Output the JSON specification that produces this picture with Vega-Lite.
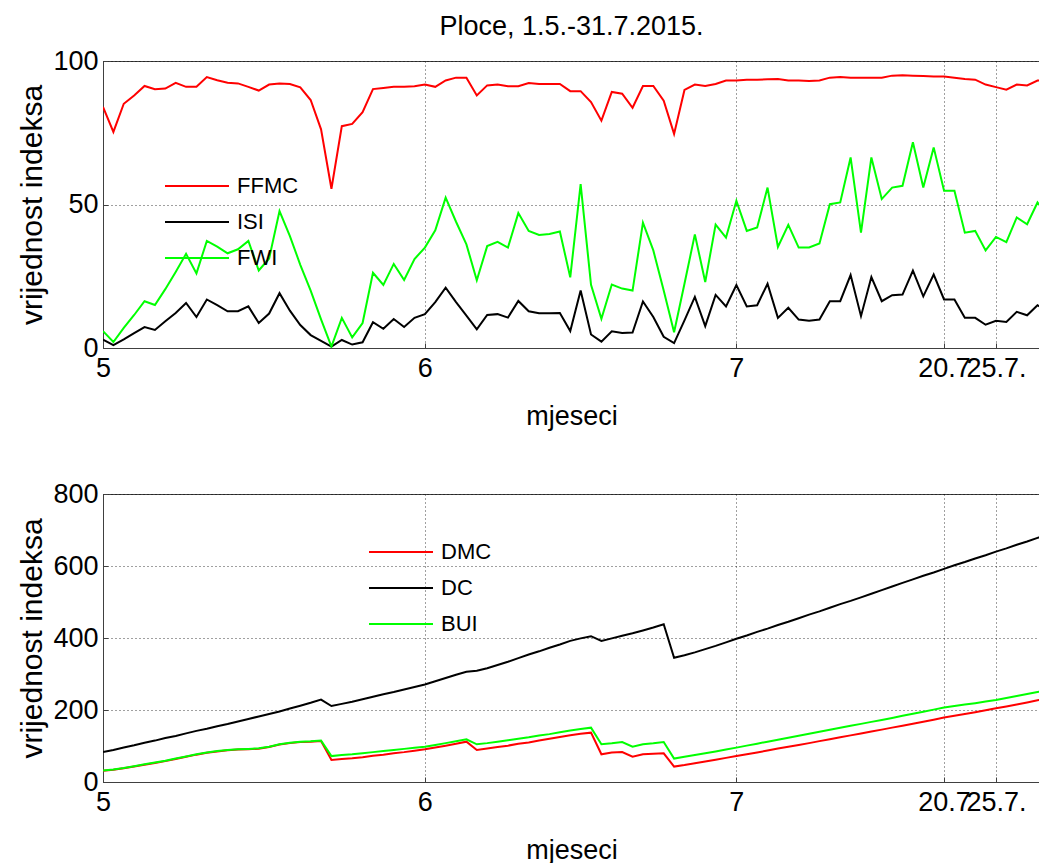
{
  "$schema": "https://vega.github.io/schema/vega-lite/v6.json",
  "padding": {"left": 16, "top": 12, "right": 0, "bottom": 0},
  "background": "white",
  "config": {
    "font": "Liberation Sans",
    "view": {"stroke": "#404040", "strokeWidth": 1},
    "axis": {
      "labelFont": "Liberation Sans", "labelFontSize": 27, "labelColor": "#000000",
      "titleFont": "Liberation Sans", "titleFontSize": 27, "titleFontWeight": "normal", "titleColor": "#000000",
      "domainColor": "#404040", "tickColor": "#404040", "tickSize": -5,
      "gridColor": "#000000", "gridDash": [1, 3], "gridOpacity": 0.75, "gridWidth": 1,
      "labelFlush": false, "labelOverlap": false
    },
    "legend": {
      "labelFont": "Liberation Sans", "labelFontSize": 22, "labelColor": "#000000",
      "symbolType": "M-4,0L4,0", "symbolSize": 256, "symbolStrokeWidth": 2,
      "labelOffset": 29, "rowPadding": 14, "padding": 0, "title": null
    },
    "title": {"font": "Liberation Sans", "fontSize": 27, "fontWeight": "normal", "color": "#000000"}
  },
  "data": {"values": [
    {"dan":1,"FFMC":84.0,"ISI":2.9,"FWI":5.9,"DMC":31,"DC":83,"BUI":32},
    {"dan":2,"FFMC":75.3,"ISI":1.0,"FWI":2.1,"DMC":34,"DC":89,"BUI":35},
    {"dan":3,"FFMC":85.1,"ISI":3.0,"FWI":7.0,"DMC":38,"DC":96,"BUI":39},
    {"dan":4,"FFMC":88.0,"ISI":5.2,"FWI":11.5,"DMC":43,"DC":102,"BUI":44},
    {"dan":5,"FFMC":91.3,"ISI":7.3,"FWI":16.3,"DMC":48,"DC":109,"BUI":49},
    {"dan":6,"FFMC":90.2,"ISI":6.3,"FWI":15.0,"DMC":53,"DC":115,"BUI":54},
    {"dan":7,"FFMC":90.4,"ISI":9.3,"FWI":20.5,"DMC":58,"DC":122,"BUI":59},
    {"dan":8,"FFMC":92.4,"ISI":12.2,"FWI":26.5,"DMC":64,"DC":128,"BUI":65},
    {"dan":9,"FFMC":91.0,"ISI":15.7,"FWI":32.8,"DMC":70,"DC":135,"BUI":71},
    {"dan":10,"FFMC":91.0,"ISI":10.8,"FWI":26.0,"DMC":76,"DC":142,"BUI":77},
    {"dan":11,"FFMC":94.4,"ISI":16.9,"FWI":37.3,"DMC":81,"DC":148,"BUI":82},
    {"dan":12,"FFMC":93.3,"ISI":14.9,"FWI":35.3,"DMC":85,"DC":155,"BUI":86},
    {"dan":13,"FFMC":92.4,"ISI":12.8,"FWI":33.0,"DMC":88,"DC":161,"BUI":89},
    {"dan":14,"FFMC":92.2,"ISI":12.8,"FWI":34.4,"DMC":90,"DC":168,"BUI":91},
    {"dan":15,"FFMC":91.0,"ISI":14.5,"FWI":37.3,"DMC":91,"DC":175,"BUI":92},
    {"dan":16,"FFMC":89.7,"ISI":8.7,"FWI":27.0,"DMC":92.5,"DC":182,"BUI":93.5},
    {"dan":17,"FFMC":91.8,"ISI":12.0,"FWI":31.2,"DMC":97,"DC":189,"BUI":98},
    {"dan":18,"FFMC":92.2,"ISI":19.1,"FWI":47.7,"DMC":104,"DC":196,"BUI":105},
    {"dan":19,"FFMC":92.0,"ISI":13.0,"FWI":39.0,"DMC":108,"DC":204,"BUI":109},
    {"dan":20,"FFMC":90.8,"ISI":8.0,"FWI":29.0,"DMC":111,"DC":212,"BUI":112},
    {"dan":21,"FFMC":86.4,"ISI":4.5,"FWI":20.0,"DMC":112,"DC":220,"BUI":113},
    {"dan":22,"FFMC":76.2,"ISI":2.5,"FWI":10.0,"DMC":114,"DC":229,"BUI":115},
    {"dan":23,"FFMC":55.5,"ISI":0.5,"FWI":0.5,"DMC":61,"DC":211,"BUI":72},
    {"dan":24,"FFMC":77.3,"ISI":2.8,"FWI":10.5,"DMC":64,"DC":217,"BUI":75},
    {"dan":25,"FFMC":78.1,"ISI":1.2,"FWI":3.7,"DMC":66,"DC":223,"BUI":77},
    {"dan":26,"FFMC":82.2,"ISI":2.0,"FWI":8.7,"DMC":69,"DC":230,"BUI":80},
    {"dan":27,"FFMC":90.2,"ISI":9.0,"FWI":26.2,"DMC":73,"DC":237,"BUI":83},
    {"dan":28,"FFMC":90.6,"ISI":6.7,"FWI":22.0,"DMC":76,"DC":244,"BUI":86},
    {"dan":29,"FFMC":91.0,"ISI":10.1,"FWI":29.3,"DMC":80,"DC":250,"BUI":89},
    {"dan":30,"FFMC":91.0,"ISI":7.3,"FWI":23.7,"DMC":83,"DC":257,"BUI":92},
    {"dan":31,"FFMC":91.2,"ISI":10.5,"FWI":31.0,"DMC":87,"DC":264,"BUI":95},
    {"dan":32,"FFMC":91.8,"ISI":11.8,"FWI":35.0,"DMC":91,"DC":271,"BUI":98},
    {"dan":33,"FFMC":91.0,"ISI":16.0,"FWI":41.0,"DMC":96,"DC":280,"BUI":103},
    {"dan":34,"FFMC":93.2,"ISI":21.0,"FWI":52.4,"DMC":101,"DC":289,"BUI":108},
    {"dan":35,"FFMC":94.2,"ISI":16.0,"FWI":44.0,"DMC":106,"DC":298,"BUI":113},
    {"dan":36,"FFMC":94.2,"ISI":11.3,"FWI":36.1,"DMC":112,"DC":306,"BUI":118.6},
    {"dan":37,"FFMC":88.0,"ISI":6.5,"FWI":23.6,"DMC":89,"DC":309,"BUI":104.7},
    {"dan":38,"FFMC":91.5,"ISI":11.5,"FWI":35.5,"DMC":93,"DC":316,"BUI":108},
    {"dan":39,"FFMC":91.8,"ISI":11.8,"FWI":37.0,"DMC":97,"DC":325,"BUI":112},
    {"dan":40,"FFMC":91.2,"ISI":10.6,"FWI":35.0,"DMC":101,"DC":334,"BUI":116},
    {"dan":41,"FFMC":91.2,"ISI":16.4,"FWI":47.0,"DMC":106,"DC":344,"BUI":120},
    {"dan":42,"FFMC":92.3,"ISI":12.8,"FWI":40.8,"DMC":110,"DC":354,"BUI":124},
    {"dan":43,"FFMC":92.0,"ISI":12.1,"FWI":39.4,"DMC":115,"DC":363,"BUI":129},
    {"dan":44,"FFMC":92.0,"ISI":12.1,"FWI":39.7,"DMC":120,"DC":373,"BUI":133},
    {"dan":45,"FFMC":92.0,"ISI":12.2,"FWI":40.6,"DMC":125,"DC":382,"BUI":138},
    {"dan":46,"FFMC":89.5,"ISI":5.9,"FWI":24.6,"DMC":130,"DC":392,"BUI":143},
    {"dan":47,"FFMC":89.5,"ISI":20.0,"FWI":57.1,"DMC":134,"DC":399,"BUI":147},
    {"dan":48,"FFMC":85.7,"ISI":4.7,"FWI":22.0,"DMC":137,"DC":405,"BUI":151},
    {"dan":49,"FFMC":79.2,"ISI":2.2,"FWI":10.2,"DMC":77,"DC":392,"BUI":104.7},
    {"dan":50,"FFMC":89.2,"ISI":5.8,"FWI":22.1,"DMC":81.8,"DC":399,"BUI":107.4},
    {"dan":51,"FFMC":88.6,"ISI":5.2,"FWI":20.7,"DMC":83.4,"DC":406,"BUI":111},
    {"dan":52,"FFMC":83.7,"ISI":5.4,"FWI":20.0,"DMC":70.5,"DC":413,"BUI":98.3},
    {"dan":53,"FFMC":91.3,"ISI":16.2,"FWI":43.7,"DMC":77,"DC":421,"BUI":104.7},
    {"dan":54,"FFMC":91.3,"ISI":10.8,"FWI":34.0,"DMC":78.7,"DC":429,"BUI":107.4},
    {"dan":55,"FFMC":86.2,"ISI":3.9,"FWI":20.0,"DMC":79.6,"DC":438,"BUI":111},
    {"dan":56,"FFMC":74.6,"ISI":1.7,"FWI":5.5,"DMC":42.8,"DC":345,"BUI":65},
    {"dan":57,"FFMC":89.9,"ISI":9.6,"FWI":22.4,"DMC":47,"DC":352,"BUI":70},
    {"dan":58,"FFMC":91.8,"ISI":17.8,"FWI":39.6,"DMC":52,"DC":360,"BUI":75},
    {"dan":59,"FFMC":91.3,"ISI":7.6,"FWI":23.0,"DMC":57,"DC":369,"BUI":80},
    {"dan":60,"FFMC":92.0,"ISI":18.5,"FWI":43.0,"DMC":62,"DC":378,"BUI":85},
    {"dan":61,"FFMC":93.2,"ISI":14.5,"FWI":38.5,"DMC":67,"DC":388,"BUI":90},
    {"dan":62,"FFMC":93.2,"ISI":21.9,"FWI":51.3,"DMC":72,"DC":398,"BUI":95.5},
    {"dan":63,"FFMC":93.5,"ISI":14.5,"FWI":40.8,"DMC":77,"DC":407,"BUI":101},
    {"dan":64,"FFMC":93.5,"ISI":14.9,"FWI":42.0,"DMC":82,"DC":417,"BUI":106.5},
    {"dan":65,"FFMC":93.6,"ISI":22.4,"FWI":55.9,"DMC":87.5,"DC":426,"BUI":112},
    {"dan":66,"FFMC":93.7,"ISI":10.5,"FWI":35.2,"DMC":93,"DC":436,"BUI":117.5},
    {"dan":67,"FFMC":93.2,"ISI":14.0,"FWI":42.9,"DMC":98,"DC":445,"BUI":123},
    {"dan":68,"FFMC":93.2,"ISI":9.9,"FWI":35.0,"DMC":103,"DC":455,"BUI":128.5},
    {"dan":69,"FFMC":93.0,"ISI":9.5,"FWI":35.0,"DMC":108,"DC":465,"BUI":134},
    {"dan":70,"FFMC":93.2,"ISI":9.9,"FWI":36.4,"DMC":113.5,"DC":474,"BUI":139.5},
    {"dan":71,"FFMC":94.2,"ISI":16.3,"FWI":50.1,"DMC":119,"DC":484,"BUI":145},
    {"dan":72,"FFMC":94.4,"ISI":16.3,"FWI":50.7,"DMC":124,"DC":494,"BUI":150.5},
    {"dan":73,"FFMC":94.2,"ISI":25.4,"FWI":66.4,"DMC":129.5,"DC":503,"BUI":156},
    {"dan":74,"FFMC":94.2,"ISI":11.1,"FWI":40.2,"DMC":135,"DC":513,"BUI":161.5},
    {"dan":75,"FFMC":94.2,"ISI":24.7,"FWI":66.4,"DMC":140,"DC":523,"BUI":167},
    {"dan":76,"FFMC":94.2,"ISI":16.3,"FWI":51.9,"DMC":145.5,"DC":533,"BUI":172.5},
    {"dan":77,"FFMC":94.9,"ISI":18.4,"FWI":55.9,"DMC":151,"DC":543,"BUI":178},
    {"dan":78,"FFMC":95.0,"ISI":18.6,"FWI":56.5,"DMC":156.5,"DC":553,"BUI":184},
    {"dan":79,"FFMC":94.9,"ISI":27.0,"FWI":71.7,"DMC":162,"DC":563,"BUI":189.5},
    {"dan":80,"FFMC":94.8,"ISI":18.0,"FWI":55.9,"DMC":167.5,"DC":573,"BUI":195},
    {"dan":81,"FFMC":94.6,"ISI":25.6,"FWI":69.9,"DMC":173,"DC":582,"BUI":201},
    {"dan":82,"FFMC":94.6,"ISI":16.9,"FWI":54.8,"DMC":179,"DC":592,"BUI":206.7},
    {"dan":83,"FFMC":94.2,"ISI":16.9,"FWI":54.8,"DMC":184,"DC":602,"BUI":211},
    {"dan":84,"FFMC":93.7,"ISI":10.5,"FWI":40.2,"DMC":189,"DC":611,"BUI":215},
    {"dan":85,"FFMC":93.5,"ISI":10.5,"FWI":40.8,"DMC":194,"DC":621,"BUI":219},
    {"dan":86,"FFMC":91.8,"ISI":8.1,"FWI":34.0,"DMC":199.5,"DC":630,"BUI":223.5},
    {"dan":87,"FFMC":90.9,"ISI":9.5,"FWI":38.7,"DMC":205,"DC":640,"BUI":228},
    {"dan":88,"FFMC":90.0,"ISI":9.1,"FWI":36.9,"DMC":210,"DC":649,"BUI":233.5},
    {"dan":89,"FFMC":91.8,"ISI":12.6,"FWI":45.5,"DMC":215.5,"DC":659,"BUI":239},
    {"dan":90,"FFMC":91.5,"ISI":11.4,"FWI":43.1,"DMC":221,"DC":668,"BUI":244.5},
    {"dan":91,"FFMC":93.2,"ISI":14.9,"FWI":50.7,"DMC":227,"DC":678,"BUI":250},
    {"dan":92,"FFMC":93.0,"ISI":13.0,"FWI":46.0,"DMC":233,"DC":688,"BUI":255}
  ]},
  "spacing": 49,
  "resolve": {"scale": {"color": "independent"}, "legend": {"color": "independent"}},
  "vconcat": [
    {
      "title": {"text": "Ploce, 1.5.-31.7.2015.", "frame": "group", "anchor": "middle", "offset": 6},
      "width": 937, "height": 287,
      "transform": [{"fold": ["FFMC", "ISI", "FWI"], "as": ["indeks", "vrijednost"]}],
      "mark": {"type": "line", "strokeWidth": 2, "clip": true},
      "encoding": {
        "x": {"field": "dan", "type": "quantitative",
          "scale": {"domain": [1, 91.24], "nice": false, "zero": false},
          "axis": {"values": [1, 32, 62, 82, 87], "title": "mjeseci", "labelPadding": 12, "titlePadding": 22,
            "labelExpr": "datum.value == 1 ? '5' : datum.value == 32 ? '6' : datum.value == 62 ? '7' : datum.value == 82 ? '20.7' : '25.7.'"}},
        "y": {"field": "vrijednost", "type": "quantitative",
          "scale": {"domain": [0, 100], "nice": false},
          "axis": {"values": [0, 50, 100], "title": "vrijednost indeksa", "titleFontSize": 30, "labelPadding": 10, "titlePadding": 6, "minExtent": 50, "maxExtent": 50}},
        "color": {"field": "indeks", "type": "nominal",
          "scale": {"domain": ["FFMC", "ISI", "FWI"], "range": ["#ff0000", "#000000", "#00ff00"]},
          "legend": {"orient": "none", "legendX": 83, "legendY": 114}}
      }
    },
    {
      "width": 937, "height": 288,
      "transform": [{"fold": ["DMC", "DC", "BUI"], "as": ["indeks", "vrijednost"]}],
      "mark": {"type": "line", "strokeWidth": 2, "clip": true},
      "encoding": {
        "x": {"field": "dan", "type": "quantitative",
          "scale": {"domain": [1, 91.24], "nice": false, "zero": false},
          "axis": {"values": [1, 32, 62, 82, 87], "title": "mjeseci", "labelPadding": 12, "titlePadding": 22,
            "labelExpr": "datum.value == 1 ? '5' : datum.value == 32 ? '6' : datum.value == 62 ? '7' : datum.value == 82 ? '20.7' : '25.7.'"}},
        "y": {"field": "vrijednost", "type": "quantitative",
          "scale": {"domain": [0, 800], "nice": false},
          "axis": {"values": [0, 200, 400, 600, 800], "title": "vrijednost indeksa", "titleFontSize": 30, "labelPadding": 10, "titlePadding": 6, "minExtent": 50, "maxExtent": 50}},
        "color": {"field": "indeks", "type": "nominal",
          "scale": {"domain": ["DMC", "DC", "BUI"], "range": ["#ff0000", "#000000", "#00ff00"]},
          "legend": {"orient": "none", "legendX": 287, "legendY": 47}}
      }
    }
  ]
}
